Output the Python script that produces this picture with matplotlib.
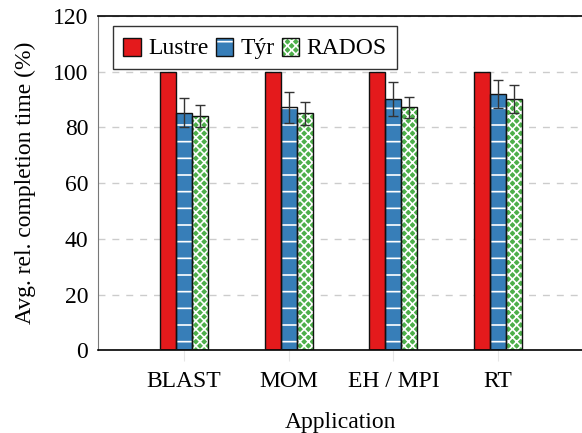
import matplotlib.pyplot as plt
import numpy as np
from matplotlib.legend_handler import HandlerBase

# data
apps = ["BLAST", "MOM", "EH / MPI", "RT"]
series = ["Lustre", "Týr", "RADOS"]
lustre = [100, 100, 100, 100]
tyr = [85.3, 87.2, 90.1, 92.1]
tyr_err = [5.2, 5.5, 6.1, 5.0]
rados = [84.0, 85.1, 87.2, 90.1]
rados_err = [4.0, 4.1, 3.8, 5.0]

colors = ["#e41a1c", "#377eb8", "#4daf4a"]
hatches = [None, "-", "xxxx"]

plt.rcParams['font.family'] = ['Liberation Serif', 'DejaVu Serif']
plt.rcParams['hatch.linewidth'] = 1.2

fig = plt.figure(figsize=(5.82, 4.33), dpi=100)
ax = fig.add_axes([98 / 582, (433 - 350.3) / 433, (582 - 98) / 582, (350.3 - 16) / 433])

x = np.arange(len(apps))
w = 0.153
vals = [lustre, tyr, rados]
errs = [None, tyr_err, rados_err]

handles = []
for i, (v, e) in enumerate(zip(vals, errs)):
    pos = x + (i - 1) * w
    # fill with white hatch lines
    ax.bar(pos, v, w, color=colors[i], edgecolor="white", hatch=hatches[i], linewidth=0, zorder=2)
    # black outline on top
    ax.bar(pos, v, w, facecolor="none", edgecolor="#111111", linewidth=1.0, zorder=3)
    if e is not None:
        ax.errorbar(pos, v, yerr=e, fmt="none", ecolor="#333333", elinewidth=1.0,
                    capsize=3.6, capthick=1.0, zorder=4)
    h = plt.Rectangle((0, 0), 1, 1, facecolor=colors[i], edgecolor="white", hatch=hatches[i], linewidth=0)
    handles.append(h)

ax.set_xlim(-0.82, 3.80)
ax.set_ylim(0, 120)
ax.set_yticks([0, 20, 40, 60, 80, 100, 120])
ax.set_xticks(x)
ax.set_xticklabels(apps)
ax.tick_params(axis="both", labelsize=17)
ax.tick_params(axis="x", length=8, color="#e6e6e6", pad=7)
ax.tick_params(axis="y", length=0, pad=7)

ax.yaxis.grid(True, linestyle=(0, (5, 5)), color="#cccccc", linewidth=1.0, zorder=0)
ax.set_axisbelow(True)
ax.spines['right'].set_visible(False)
ax.spines['left'].set_color("#777777")
ax.spines['top'].set_linewidth(1.2)
ax.spines['bottom'].set_linewidth(1.2)

ax.set_xlabel("Application", fontsize=17, labelpad=14)
ax.set_ylabel("Avg. rel. completion time (%)", fontsize=17, labelpad=12)


# legend handles drawn with black outline over the hatched fill
class OutlinedHandler(HandlerBase):
    def create_artists(self, legend, orig, xd, yd, width, height, fontsize, trans):
        side = width
        x0 = -xd
        y0 = -yd + (height - side) / 2 - 1
        fill = plt.Rectangle((x0, y0), side, side, facecolor=orig.get_facecolor(),
                             edgecolor="white", hatch=orig.get_hatch(), linewidth=0, transform=trans)
        edge = plt.Rectangle((x0, y0), side, side, facecolor="none",
                             edgecolor="#111111", linewidth=1.0, transform=trans)
        return [fill, edge]


leg = ax.legend(handles, series, loc="upper left", ncol=3, fontsize=17,
                bbox_to_anchor=(112.7 / 582, (433 - 26) / 433), bbox_transform=fig.transFigure,
                handler_map={plt.Rectangle: OutlinedHandler()},
                handlelength=0.75, handleheight=0.75, handletextpad=0.3,
                columnspacing=0.3, borderpad=0.45, borderaxespad=0,
                fancybox=False, framealpha=1, edgecolor="#333333")
leg.get_frame().set_linewidth(1.0)

fig.savefig("out.png", dpi=100)
